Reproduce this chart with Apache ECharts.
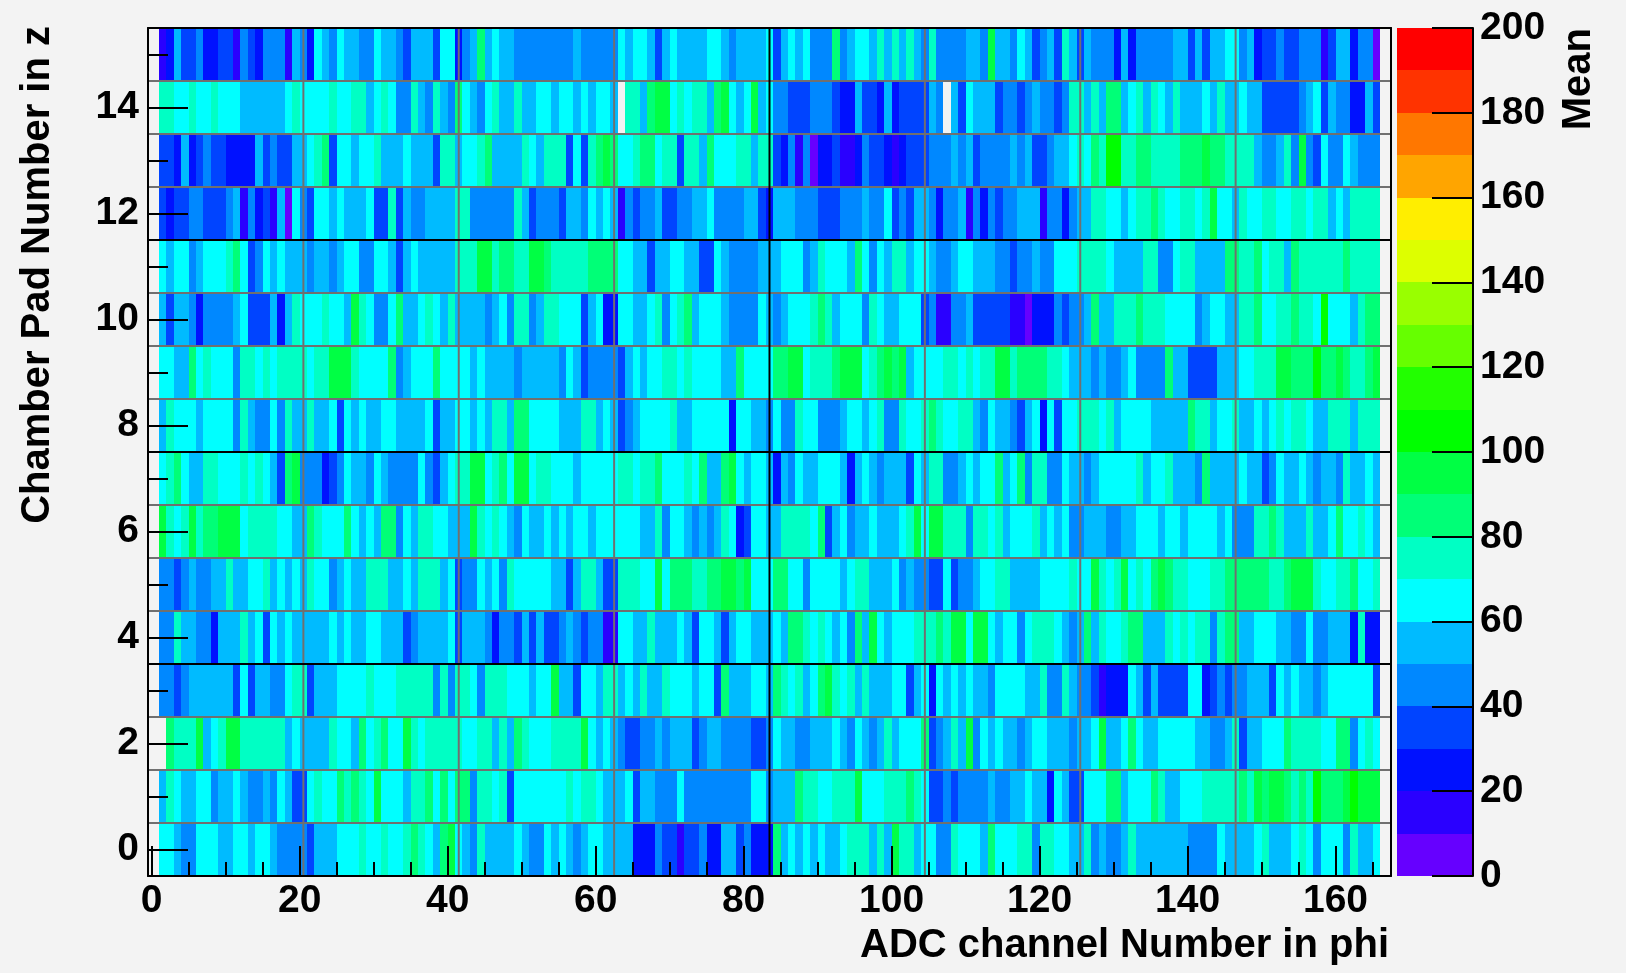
<!DOCTYPE html>
<html>
<head>
<meta charset="utf-8">
<script src="https://cdn.jsdelivr.net/npm/echarts@6/dist/echarts.min.js"></script>
<style>html,body{margin:0;padding:0;background:#f3f3f3}#c{width:1626px;height:973px}</style>
</head>
<body>
<div id="c"></div>
<script>
const firstChannel = 1;
const row0 = [65,65,55,45,45,65,65,65,55,55,65,65,55,65,65,55,45,45,45,45,
35,55,55,55,65,65,65,75,65,65,75,65,65,75,85,75,65,55,85,95,
65,55,45,75,55,55,55,55,65,55,45,45,65,55,65,55,45,55,65,65,55,55,
55,55,25,25,25,45,35,35,15,35,35,45,25,25,55,55,35,45,25,25,25,
85,55,65,55,65,55,65,55,55,65,75,75,75,55,75,55,95,75,75,55,65,
65,45,45,75,65,65,65,55,85,65,65,65,75,75,45,75,75,65,65,55,55,
75,45,55,45,45,55,75,55,55,55,55,55,55,55,45,45,45,45,65,55,55,
55,55,65,75,55,55,55,65,75,65,45,65,65,65,45,75,55,55,65];
const row1 = [55,75,65,55,55,65,65,45,55,55,65,55,45,45,55,45,65,55,35,35,
65,75,65,65,85,75,85,75,65,95,65,65,65,55,75,75,85,65,85,65,
85,85,45,75,75,65,75,35,65,65,65,65,65,65,65,75,65,75,75,65,55,55,
55,65,35,55,55,45,45,45,65,45,45,45,45,45,45,45,45,45,65,65,45,
55,55,55,85,75,75,65,65,75,75,75,95,65,65,65,75,75,75,85,75,65,
35,35,45,35,45,45,45,45,55,45,45,55,55,65,55,55,25,65,55,35,35,
65,65,65,85,85,55,65,65,65,85,75,55,55,65,65,65,75,75,75,75,75,
85,75,95,85,95,95,85,75,85,75,105,85,85,85,95,105,95,95,95];
const row2 = [null,85,75,75,75,95,55,65,75,95,95,75,75,75,75,75,75,55,65,55,
55,55,55,75,65,65,55,85,65,75,85,65,65,95,75,65,75,75,75,75,
75,65,65,75,75,55,75,55,85,75,65,65,65,75,75,75,75,95,65,55,65,55,
45,35,35,45,45,55,45,55,55,55,35,45,55,55,45,45,45,45,35,35,45,
65,55,55,45,45,55,55,55,65,55,45,65,55,45,55,75,55,65,65,65,85,
35,45,55,75,55,95,45,65,55,65,55,55,45,55,65,65,55,55,55,45,55,
55,65,95,55,55,65,85,65,55,55,65,65,65,65,65,55,55,45,45,55,75,
35,55,55,65,65,65,85,75,75,75,75,65,65,85,85,45,65,75,65];
const row3 = [45,45,35,45,55,55,55,55,55,55,35,65,35,55,55,45,45,65,75,75,
35,55,55,55,65,65,65,65,75,65,65,65,75,75,75,75,75,45,75,45,
75,75,65,45,75,75,75,65,65,65,55,65,65,95,55,55,35,65,65,55,75,75,
55,65,55,75,55,55,75,65,65,65,55,65,65,35,85,55,55,55,65,65,55,
85,75,65,75,55,65,85,95,75,65,75,55,75,55,55,55,65,65,35,55,65,
25,65,55,65,55,65,55,55,45,65,65,65,65,55,55,75,45,45,75,55,45,
45,35,15,25,25,25,65,55,35,55,35,35,35,35,65,65,25,35,45,35,45,
45,55,55,55,35,65,55,65,55,55,45,55,65,65,65,65,65,65,35];
const row4 = [45,45,75,55,55,45,45,25,55,55,55,75,55,65,35,65,55,65,55,55,
55,55,55,65,55,65,55,55,65,65,55,55,55,35,45,55,55,55,55,65,
35,55,55,55,45,25,45,45,35,55,35,55,35,35,45,55,45,35,45,45,15,15,
65,65,55,55,75,55,55,55,65,55,35,65,65,55,35,55,65,65,55,55,55,
65,55,85,85,75,65,75,65,55,65,45,85,55,95,65,55,65,65,65,75,75,
75,85,75,95,95,65,95,95,65,55,65,65,45,65,75,75,75,65,55,45,55,
85,55,75,65,65,75,85,85,55,55,55,75,65,75,65,75,75,45,75,85,85,
55,55,65,65,65,55,55,45,45,65,45,45,55,55,55,25,75,25,25];
const row5 = [45,45,35,45,55,45,45,55,55,75,55,55,65,65,75,55,65,55,65,55,
75,65,65,45,55,65,55,55,75,75,75,55,55,65,55,75,75,75,55,65,
35,45,45,65,55,65,45,75,65,65,65,65,65,55,55,35,55,75,75,55,35,35,
75,75,75,65,65,95,65,85,85,85,75,75,85,85,95,95,85,95,65,65,65,
85,85,65,65,45,65,65,65,65,55,65,75,75,55,55,55,65,45,55,45,45,
35,35,65,35,45,45,55,65,65,75,75,55,55,55,55,65,65,65,65,75,65,
65,95,75,65,75,95,65,75,65,85,95,85,75,75,65,65,65,75,75,85,85,
85,85,85,85,75,75,85,95,95,95,75,65,65,75,75,85,65,65,75];
const row6 = [95,75,65,75,95,75,85,85,95,95,95,65,75,75,75,75,65,65,55,55,
85,75,65,65,65,85,65,55,65,55,85,85,45,65,55,75,75,65,65,55,
55,55,95,75,65,75,65,55,45,65,55,55,65,55,65,55,65,65,55,65,65,65,
65,65,65,55,55,75,45,65,65,55,45,55,45,55,75,65,25,35,65,65,55,
55,75,75,75,75,65,85,35,55,65,45,55,55,65,55,55,55,65,75,95,65,
95,95,75,75,75,45,75,75,65,75,55,65,65,65,75,55,65,55,65,45,45,
55,55,55,45,45,55,55,65,65,65,55,65,65,55,65,65,65,65,55,65,45,
45,45,75,75,85,75,55,55,55,75,55,55,65,85,65,65,75,65,55];
const row7 = [65,75,85,65,55,55,75,75,65,65,65,75,65,75,65,55,35,85,95,45,
45,45,25,35,45,65,55,55,45,65,55,45,45,45,45,65,45,35,55,65,
75,75,95,95,65,75,85,65,95,95,65,75,75,65,65,65,55,65,65,65,65,65,
75,75,65,75,75,85,65,65,65,75,65,85,55,55,85,95,65,55,65,65,55,
25,55,45,65,55,55,65,65,65,55,25,55,65,55,45,55,55,55,35,65,55,
75,75,45,45,55,65,55,65,65,85,55,65,85,45,75,75,45,45,65,55,55,
45,55,65,65,65,65,65,75,55,65,65,75,55,55,55,45,85,55,55,55,55,
65,55,55,35,45,65,55,55,65,55,45,55,55,45,75,55,55,65,55];
const row8 = [55,75,65,65,65,55,65,65,65,65,45,75,55,45,45,65,45,75,55,55,
75,55,55,65,35,65,55,65,55,55,65,65,55,55,55,55,65,35,55,55,
65,65,55,65,55,75,75,55,85,85,65,65,65,65,55,55,55,75,75,55,65,55,
35,45,55,65,65,65,65,75,55,55,65,65,65,65,65,25,65,65,55,55,45,
65,45,45,75,65,65,45,45,45,55,65,65,55,65,75,45,45,75,65,65,75,
85,75,65,65,75,75,55,45,65,55,55,45,35,55,65,25,65,35,65,65,75,
75,75,65,75,55,65,65,65,65,55,55,55,55,55,85,75,75,55,65,65,75,
55,55,65,55,65,75,65,75,75,65,55,55,75,75,75,55,75,75,75];
const row9 = [65,65,55,55,85,65,75,65,65,65,45,75,75,65,75,65,75,75,75,75,
65,75,75,95,95,95,75,65,65,65,65,85,45,55,65,65,65,85,65,65,
65,65,55,65,55,55,55,55,45,55,55,55,55,55,45,65,55,35,45,45,45,45,
35,55,65,55,65,65,75,75,65,75,65,65,65,65,55,55,85,65,65,65,65,
85,85,95,95,65,75,75,75,85,95,95,95,65,75,85,95,85,95,55,65,65,
65,65,75,75,65,75,65,75,75,95,95,75,85,85,85,85,75,75,65,55,55,
55,45,55,45,45,55,65,45,45,45,45,85,55,55,35,35,35,35,55,55,55,
65,65,75,75,75,95,95,85,85,85,105,85,85,95,85,75,75,85,95];
const row10 = [55,35,55,55,45,25,45,45,45,45,55,65,35,35,35,55,25,55,75,65,
65,65,75,65,65,55,95,75,65,45,45,65,85,55,55,65,75,65,55,75,
55,55,55,55,45,55,65,45,75,75,45,55,75,75,65,65,65,35,55,65,25,25,
65,65,55,55,65,75,45,65,75,85,55,65,65,65,55,45,45,45,45,65,55,
45,55,65,65,65,75,85,75,55,65,65,65,45,75,65,55,55,65,65,65,35,
45,15,15,45,45,55,35,35,35,35,35,15,15,5,25,25,25,45,35,45,45,
55,85,55,55,75,75,75,85,75,75,75,65,65,65,65,45,55,65,65,55,55,
75,75,85,65,65,75,75,85,75,75,65,105,65,65,65,55,75,85,85];
const row11 = [65,55,65,65,45,55,65,65,65,75,85,65,35,45,65,55,65,55,55,55,
45,55,55,45,55,65,65,45,45,65,65,55,35,55,65,55,55,55,55,55,
75,75,75,95,95,75,85,85,75,75,95,95,85,75,75,75,75,75,85,85,85,85,
65,65,55,55,35,55,55,65,65,55,55,35,35,65,55,45,45,45,45,55,55,
55,65,65,65,45,55,75,65,65,65,55,85,65,45,65,55,75,75,55,65,65,
55,45,45,55,65,65,55,55,55,45,45,35,45,45,55,45,45,65,65,65,75,
75,75,75,65,55,55,55,55,75,75,45,45,65,75,75,55,55,55,55,85,85,
75,75,85,65,75,75,55,85,75,75,75,75,75,75,85,75,75,75,75];
const row12 = [35,25,35,35,45,45,35,35,35,45,55,15,45,25,35,15,55,5,65,45,
35,65,65,55,65,55,55,55,65,35,35,75,35,55,45,45,55,55,55,55,
75,75,45,45,45,45,45,45,75,55,35,45,45,45,35,55,55,45,65,55,65,55,
15,45,35,45,45,55,35,35,45,45,55,55,65,45,45,45,45,55,55,35,25,
55,55,55,45,45,45,35,35,35,45,45,45,55,45,45,65,35,45,35,55,55,
45,25,45,45,55,15,45,25,45,35,45,45,55,55,55,15,45,45,25,45,55,
55,75,75,65,65,55,65,75,75,85,75,65,65,75,75,65,75,95,65,65,55,
75,65,65,75,75,65,65,75,75,65,75,75,55,65,55,75,75,75,75];
const row13 = [35,35,25,55,25,35,45,35,35,25,25,25,25,55,35,45,35,35,55,55,
65,75,85,35,65,65,55,65,65,75,55,55,55,65,55,55,55,35,75,75,
55,65,65,75,85,55,55,55,55,75,65,55,75,75,75,35,65,35,75,85,95,85,
65,65,75,85,85,65,75,75,35,75,75,55,85,65,65,65,75,75,55,75,75,
35,25,45,15,45,5,25,25,35,15,15,25,45,35,35,25,15,25,35,35,35,
45,45,45,55,45,55,35,45,45,45,45,55,45,55,35,35,45,55,55,65,75,
65,85,75,105,105,75,75,85,85,75,75,75,75,85,85,85,95,85,85,75,75,
75,75,55,45,45,55,75,45,95,45,35,65,45,45,65,55,45,45,45];
const row14 = [75,75,65,65,75,65,65,75,65,65,65,55,55,55,55,55,55,65,75,65,
65,65,65,75,65,65,75,75,55,65,75,65,45,45,75,55,45,75,55,45,
85,65,55,45,65,75,55,55,75,55,55,65,65,55,65,65,55,65,55,65,65,55,
null,75,75,55,85,95,95,65,75,65,75,75,55,85,95,65,55,65,95,55,65,
45,45,35,35,35,45,45,45,35,25,25,55,35,35,25,55,25,35,35,35,35,
55,45,null,55,35,65,55,55,55,35,45,45,35,45,55,45,45,35,45,75,75,
55,75,55,85,85,55,65,75,55,75,65,55,75,55,55,55,65,55,75,55,55,
65,55,55,35,35,35,35,35,45,55,65,35,55,45,45,25,25,55,35];
const row15 = [15,25,55,35,35,45,25,25,35,35,15,45,35,25,45,45,45,15,55,45,
25,65,55,45,65,55,55,45,45,65,55,55,45,35,55,55,55,35,65,65,
25,45,55,85,55,65,55,55,45,45,45,45,45,45,45,45,55,45,45,45,45,45,
65,55,65,65,55,35,55,65,55,55,55,55,65,65,55,45,55,55,55,55,65,
35,55,65,55,65,45,45,45,85,45,55,65,65,55,75,55,75,55,75,55,45,
75,45,45,45,45,55,55,45,95,55,55,45,65,55,35,45,55,35,75,55,35,
55,45,45,45,25,55,25,45,45,45,45,45,55,55,35,55,35,55,55,65,65,
45,55,25,35,35,45,35,35,45,45,45,15,35,55,55,25,45,45,5];
const rows = [row0,row1,row2,row3,row4,row5,row6,row7,row8,row9,row10,row11,row12,row13,row14,row15];

const xLongTicks = [0,20,40,60,80,100,120,140,160];
const xShortTicks = [0,5,10,15,20,25,30,35,40,45,50,55,60,65,70,75,80,85,90,95,100,105,110,115,120,125,130,135,140,145,150,155,160,165];
const yLongTicks = [0,2,4,6,8,10,12,14];
const yShortTicks = [1,3,5,7,9,11,13,15];
const xGreyLines = [20.5,41.5,62.5,104.5,125.5,146.5];
const xBlackLines = [83.5];
const yGreyLines = [0.5,1.5,2.5,4.5,5.5,6.5,8.5,9.5,10.5,12.5,13.5,14.5];
const yBlackLines = [3.5,7.5,11.5];
const palette = ['#6600ff','#2a00ff','#0011ff','#0044ff','#0088ff','#00bbff','#00ffff','#00ffc4','#00ff77','#00ff44','#00ff00','#22ff00','#66ff00','#99ff00','#ddff00','#ffee00','#ffa500','#ff7700','#ff3300','#ff0000'];
const barLevels = [0,10,20,30,40,50,60,70,80,90,100,110,120,130,140,150,160,170,180,190];

const FONT = '"Liberation Sans", Arial, sans-serif';
const cells = [];
rows.forEach((r, y) => r.forEach((v, i) => { if (v !== null) cells.push([firstChannel + i, y, v]); }));

function cellItem(params, api) {
  const x = api.value(0), y = api.value(1);
  const a = api.coord([x, y - 0.5]), b = api.coord([x + 1, y + 0.5]);
  const x0 = Math.round(a[0]), x1 = Math.round(b[0]), y0 = Math.round(b[1]), y1 = Math.round(a[1]);
  return { type: 'rect', shape: { x: x0, y: y0, width: x1 - x0, height: y1 - y0 },
    style: { fill: palette[Math.floor(api.value(2) / 10)] } };
}
function vLineItem(color) {
  return function (params, api) {
    const v = api.value(0);
    const a = api.coord([v, -0.5]), b = api.coord([v, 15.5]);
    return { type: 'line', shape: { x1: a[0], y1: a[1], x2: b[0], y2: b[1] }, style: { stroke: color, lineWidth: 2 } };
  };
}
function hLineItem(color) {
  return function (params, api) {
    const v = api.value(0);
    const a = api.coord([-0.5, v]), b = api.coord([167.5, v]);
    return { type: 'line', shape: { x1: a[0], y1: a[1], x2: b[0], y2: b[1] }, style: { stroke: color, lineWidth: 2 } };
  };
}
function barItem(params, api) {
  const v = api.value(0);
  const a = api.coord([0, v]), b = api.coord([1, v + 10]);
  const y0 = Math.round(b[1]), y1 = Math.round(a[1]);
  return { type: 'rect', shape: { x: a[0], y: y0, width: b[0] - a[0], height: y1 - y0 }, style: { fill: palette[Math.round(v / 10)] } };
}
const lineSeries = (data, item, z) => ({ type: 'custom', coordinateSystem: 'cartesian2d', xAxisIndex: 0, yAxisIndex: 0,
  data: data.map(v => [v]), encode: { x: -1, y: -1 }, renderItem: item, silent: true, z: z, clip: false });
const black = { lineStyle: { color: '#000', width: 2 } };
const tickLabel = { color: '#000', fontFamily: FONT, fontWeight: 'bold', fontSize: 39 };

const option = {
  backgroundColor: '#f3f3f3',
  animation: false,
  grid: [
    { left: 148, top: 28, width: 1243, height: 848, show: false },
    { left: 1397, top: 28, width: 76, height: 848, show: false }
  ],
  xAxis: [
    { type: 'value', gridIndex: 0, position: 'bottom', min: -0.5, max: 167.5, z: 6,
      axisLine: { show: true, onZero: false, ...black }, splitLine: { show: false },
      axisTick: { show: true, inside: true, length: 30, customValues: xLongTicks, lineStyle: { color: '#000', width: 2 } },
      axisLabel: { show: true, customValues: xLongTicks, margin: 6, ...tickLabel, hideOverlap: false },
      name: 'ADC channel Number in phi', nameLocation: 'end', nameGap: 0,
      nameTextStyle: { color: '#000', fontFamily: FONT, fontWeight: 'bold', fontSize: 40, align: 'right', verticalAlign: 'top', padding: [50, 2, 0, 0] } },
    { type: 'value', gridIndex: 0, position: 'bottom', min: -0.5, max: 167.5, z: 6,
      axisLine: { show: false, onZero: false }, splitLine: { show: false }, axisLabel: { show: false },
      axisTick: { show: true, inside: true, length: 14, customValues: xShortTicks, lineStyle: { color: '#000', width: 2 } } },
    { type: 'value', gridIndex: 0, position: 'top', min: -0.5, max: 167.5, z: 6,
      axisLine: { show: true, onZero: false, ...black }, splitLine: { show: false }, axisLabel: { show: false }, axisTick: { show: false } },
    { type: 'value', gridIndex: 1, min: 0, max: 1, show: false }
  ],
  yAxis: [
    { type: 'value', gridIndex: 0, position: 'left', min: -0.5, max: 15.5, z: 6,
      axisLine: { show: true, onZero: false, ...black }, splitLine: { show: false },
      axisTick: { show: true, inside: true, length: 40, customValues: yLongTicks, lineStyle: { color: '#000', width: 2 } },
      axisLabel: { show: true, customValues: yLongTicks, margin: 9, padding: [0, 0, 4, 0], ...tickLabel, hideOverlap: false },
      name: 'Chamber Pad Number in z', nameLocation: 'end', nameGap: 2, nameRotate: 90,
      nameTextStyle: { color: '#000', fontFamily: FONT, fontWeight: 'bold', fontSize: 40, align: 'right', verticalAlign: 'bottom', padding: [0, 0, 90, 0] } },
    { type: 'value', gridIndex: 0, position: 'left', min: -0.5, max: 15.5, z: 6,
      axisLine: { show: false, onZero: false }, splitLine: { show: false }, axisLabel: { show: false },
      axisTick: { show: true, inside: true, length: 20, customValues: yShortTicks, lineStyle: { color: '#000', width: 2 } } },
    { type: 'value', gridIndex: 0, position: 'right', min: -0.5, max: 15.5, z: 6,
      axisLine: { show: true, onZero: false, ...black }, splitLine: { show: false }, axisLabel: { show: false }, axisTick: { show: false } },
    { type: 'value', gridIndex: 1, position: 'right', min: 0, max: 200, interval: 20, z: 6,
      axisLine: { show: true, onZero: false, ...black }, splitLine: { show: false },
      axisTick: { show: true, inside: true, length: 41, lineStyle: { color: '#000', width: 2 } },
      axisLabel: { show: true, margin: 7, padding: [0, 0, 4, 0], ...tickLabel, hideOverlap: false, showMinLabel: true, showMaxLabel: true },
      name: 'Mean', nameLocation: 'end', nameGap: 0, nameRotate: 90,
      nameTextStyle: { color: '#000', fontFamily: FONT, fontWeight: 'bold', fontSize: 40, align: 'right', verticalAlign: 'top', padding: [86, 0, 0, 0] } }
  ],
  series: [
    { type: 'custom', coordinateSystem: 'cartesian2d', xAxisIndex: 0, yAxisIndex: 0, data: cells,
      encode: { x: 0, y: 1 }, renderItem: cellItem, silent: true, z: 2 },
    lineSeries(xGreyLines, vLineItem('#707070'), 3),
    lineSeries(yGreyLines, hLineItem('#707070'), 3),
    lineSeries(xBlackLines, vLineItem('#000'), 4),
    lineSeries(yBlackLines, hLineItem('#000'), 4),
    { type: 'custom', coordinateSystem: 'cartesian2d', xAxisIndex: 3, yAxisIndex: 3, data: barLevels.map(v => [v]),
      encode: { x: -1, y: 0 }, renderItem: barItem, silent: true, z: 2 }
  ]
};
echarts.init(document.getElementById('c'), null, { renderer: 'canvas' }).setOption(option);
</script>
</body>
</html>
